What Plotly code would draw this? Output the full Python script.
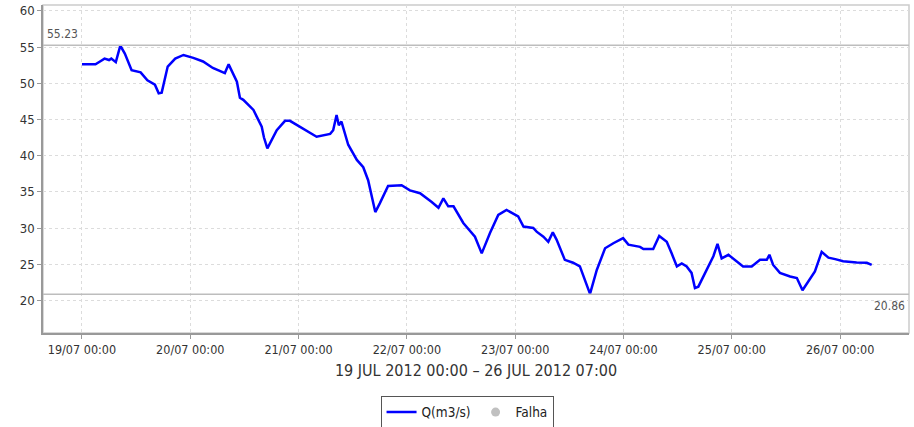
import plotly.graph_objects as go
import pandas as pd

times = [
    "2012-07-19 00:00", "2012-07-19 03:00", "2012-07-19 04:00", "2012-07-19 05:00", "2012-07-19 06:00",
    "2012-07-19 06:30", "2012-07-19 07:30", "2012-07-19 08:30", "2012-07-19 09:30", "2012-07-19 11:00",
    "2012-07-19 13:00", "2012-07-19 14:30", "2012-07-19 16:10", "2012-07-19 17:00", "2012-07-19 17:40",
    "2012-07-19 19:00", "2012-07-19 20:40", "2012-07-19 22:30", "2012-07-20 00:40", "2012-07-20 02:50",
    "2012-07-20 05:00", "2012-07-20 07:40", "2012-07-20 08:30", "2012-07-20 09:30", "2012-07-20 10:20",
    "2012-07-20 11:00", "2012-07-20 11:45", "2012-07-20 14:00", "2012-07-20 14:40", "2012-07-20 15:50",
    "2012-07-20 16:20", "2012-07-20 17:05", "2012-07-20 19:10", "2012-07-20 21:00", "2012-07-20 22:05",
    "2012-07-21 00:20", "2012-07-21 02:30", "2012-07-21 04:00", "2012-07-21 07:00", "2012-07-21 07:40",
    "2012-07-21 08:25", "2012-07-21 08:55", "2012-07-21 09:30", "2012-07-21 11:00", "2012-07-21 12:55",
    "2012-07-21 14:20", "2012-07-21 15:25", "2012-07-21 16:10", "2012-07-21 17:00", "2012-07-21 18:00",
    "2012-07-21 19:50", "2012-07-21 22:50", "2012-07-22 00:40", "2012-07-22 02:55", "2012-07-22 04:45",
    "2012-07-22 05:30", "2012-07-22 07:00", "2012-07-22 08:05", "2012-07-22 09:10", "2012-07-22 10:20",
    "2012-07-22 12:30", "2012-07-22 15:05", "2012-07-22 16:35", "2012-07-22 18:25", "2012-07-22 20:15",
    "2012-07-22 22:05", "2012-07-23 00:40", "2012-07-23 01:50", "2012-07-23 04:00", "2012-07-23 04:45",
    "2012-07-23 06:15", "2012-07-23 07:20", "2012-07-23 08:20", "2012-07-23 09:10", "2012-07-23 11:00",
    "2012-07-23 12:50", "2012-07-23 14:20", "2012-07-23 15:30", "2012-07-23 16:35", "2012-07-23 18:05",
    "2012-07-23 19:55", "2012-07-23 21:45", "2012-07-23 23:55", "2012-07-24 01:05", "2012-07-24 03:40",
    "2012-07-24 04:25", "2012-07-24 06:35", "2012-07-24 07:55", "2012-07-24 09:35", "2012-07-24 10:40",
    "2012-07-24 11:50", "2012-07-24 12:55", "2012-07-24 14:00", "2012-07-24 15:05", "2012-07-24 15:50",
    "2012-07-24 16:35", "2012-07-24 18:25", "2012-07-24 19:55", "2012-07-24 20:50", "2012-07-24 21:45",
    "2012-07-24 23:15", "2012-07-25 01:05", "2012-07-25 02:30", "2012-07-25 04:25", "2012-07-25 06:15",
    "2012-07-25 07:45", "2012-07-25 08:20", "2012-07-25 09:10", "2012-07-25 10:40", "2012-07-25 12:55",
    "2012-07-25 14:25", "2012-07-25 15:40", "2012-07-25 17:20", "2012-07-25 18:25", "2012-07-25 19:55",
    "2012-07-25 21:25", "2012-07-25 22:55", "2012-07-26 00:40", "2012-07-26 03:40", "2012-07-26 05:55",
    "2012-07-26 07:00",
]
flow = [
    52.6, 52.6, 53.0, 53.4, 53.2,
    53.4, 52.9, 55.2, 54.1, 51.8,
    51.5, 50.4, 49.8, 48.6, 48.7,
    52.3, 53.4, 53.9, 53.5, 53.0,
    52.1, 51.4, 52.6, 51.4, 50.2,
    48.0, 47.7, 46.3, 45.4, 44.0,
    42.5, 41.0, 43.5, 44.8, 44.8,
    44.0, 43.2, 42.6, 43.0, 43.5,
    45.6, 44.2, 44.7, 41.5, 39.4,
    38.4, 36.6, 34.3, 32.2, 33.4,
    35.8, 35.9, 35.2, 34.8, 34.0,
    33.6, 32.8, 34.1, 33.0, 33.0,
    30.7, 28.8, 26.5, 29.3, 31.8,
    32.5, 31.6, 30.2, 30.0, 29.5,
    28.8, 28.1, 29.4, 28.4, 25.6,
    25.2, 24.7, 22.6, 20.9, 24.2,
    27.2, 27.9, 28.6, 27.7, 27.4,
    27.1, 27.1, 28.9, 28.1, 26.5,
    24.7, 25.1, 24.7, 23.8, 21.7,
    21.9, 24.2, 26.1, 27.8, 25.8,
    26.3, 25.4, 24.7, 24.7, 25.6,
    25.6, 26.3, 24.9, 23.8, 23.3,
    23.1, 21.4, 22.9, 24.0, 26.7,
    25.9, 25.7, 25.4, 25.25, 25.2,
    24.9,
]
max_value = 55.23
min_value = 20.86
x_title = "19 JUL 2012 00:00 \u2013 26 JUL 2012 07:00"
tick_vals = ["2012-07-19", "2012-07-20", "2012-07-21", "2012-07-22",
             "2012-07-23", "2012-07-24", "2012-07-25", "2012-07-26"]
tick_text = ["19/07 00:00", "20/07 00:00", "21/07 00:00", "22/07 00:00",
             "23/07 00:00", "24/07 00:00", "25/07 00:00", "26/07 00:00"]
y_ticks = [20, 25, 30, 35, 40, 45, 50, 55, 60]

FONT = "DejaVu Sans Condensed"

fig = go.Figure()
fig.add_trace(go.Scatter(
    x=pd.to_datetime(times), y=flow, mode="lines", name="Q(m3/s)",
    line=dict(color="#0000ff", width=2.5),
))
fig.add_trace(go.Scatter(
    x=[None], y=[None], mode="markers", name="Falha",
    marker=dict(color="#c0c0c0", size=9, symbol="circle"),
))

x0 = "2012-07-18 15:22"
x1 = "2012-07-26 15:16"

for v in (max_value, min_value):
    fig.add_shape(type="line", xref="paper", x0=0, x1=1, yref="y", y0=v, y1=v,
                  line=dict(color="#bdbdbd", width=1.5), layer="above")

fig.add_annotation(xref="paper", x=0, yref="y", y=max_value, text=f"{max_value:.2f}",
                   showarrow=False, xanchor="left", yanchor="bottom", xshift=2, yshift=2,
                   font=dict(family=FONT, size=12, color="#555"))
fig.add_annotation(xref="paper", x=1, yref="y", y=min_value, text=f"{min_value:.2f}",
                   showarrow=False, xanchor="right", yanchor="top", xshift=-2, yshift=-3,
                   font=dict(family=FONT, size=12, color="#555"))

# frame
fig.add_shape(type="rect", xref="paper", yref="paper", x0=0, x1=1, y0=0, y1=1,
              line=dict(color="#cccccc", width=1.5), layer="below")

fig.update_layout(
    width=914, height=427,
    margin=dict(l=43, r=5, t=5, b=94),
    paper_bgcolor="white", plot_bgcolor="white",
    font=dict(family=FONT, size=12, color="#333"),
    showlegend=True,
    legend=dict(orientation="h", xref="container", yref="container",
                x=0.511, xanchor="center", y=0.073, yanchor="top",
                bordercolor="#555", borderwidth=1, bgcolor="white",
                font=dict(family=FONT, size=13.5, color="#222"),
                itemwidth=30, tracegroupgap=0),
    xaxis=dict(
        range=[x0, x1], tickvals=tick_vals, ticktext=tick_text, automargin=False,
        showgrid=True, gridcolor="#dcdcdc", griddash="3px,3px", gridwidth=1,
        showline=True, linecolor="#999999", linewidth=1.5,
        ticks="outside", ticklen=4, tickcolor="#999999",
        tickfont=dict(family=FONT, size=12.5, color="#333"),
        title=dict(text=x_title, font=dict(family=FONT, size=16, color="#333"), standoff=9),
        zeroline=False,
    ),
    yaxis=dict(
        range=[15.5, 60.8], tickvals=y_ticks, automargin=False,
        showgrid=True, gridcolor="#dcdcdc", griddash="3px,3px", gridwidth=1,
        showline=True, linecolor="#999999", linewidth=1.5,
        ticks="outside", ticklen=4, tickcolor="#999999",
        tickfont=dict(family=FONT, size=13, color="#333"),
        zeroline=False,
    ),
)

fig.write_html("out.html", config={"displayModeBar": False},
               post_script="document.body.style.margin='0';document.body.style.overflow='hidden';")
